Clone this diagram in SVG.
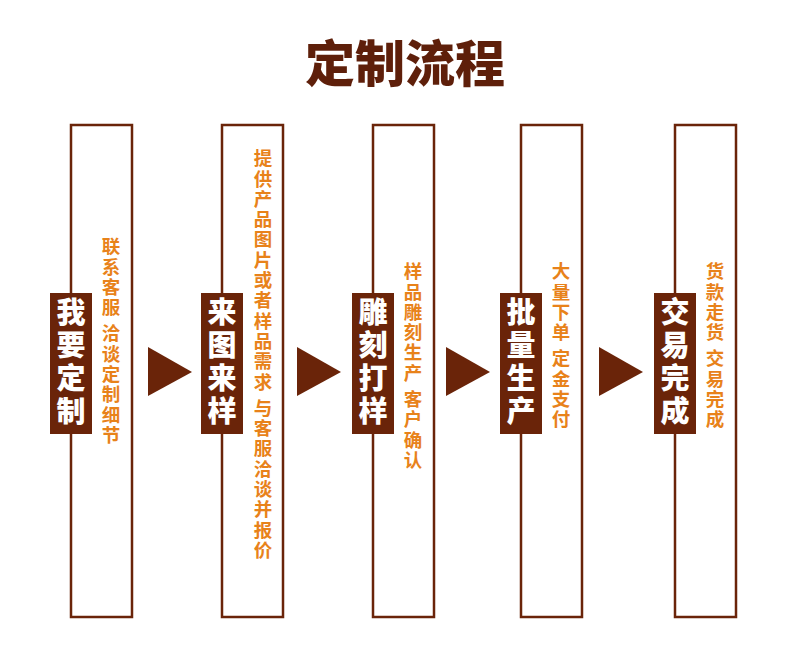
<svg xmlns="http://www.w3.org/2000/svg" width="790" height="657" viewBox="0 0 790 657">
<style>
.box{fill:#fff;stroke:#6a2409;stroke-width:2.5}
.lab{fill:#6a2409}
.lt{fill:#fff;font-family:"Noto Sans CJK SC",sans-serif;font-weight:900;font-size:29px;writing-mode:vertical-rl;letter-spacing:4px}
.st{fill:#e8821a;font-family:"Noto Sans CJK SC",sans-serif;font-weight:700;font-size:18.5px;writing-mode:vertical-rl;letter-spacing:1.8px}
.arr{fill:#6a2409}
</style>
<rect width="790" height="657" fill="#fff"/>
<text x="405" y="82" text-anchor="middle" font-family="'Noto Sans CJK SC',sans-serif" font-weight="900" font-size="50" fill="#5e1f0a">定制流程</text>
<g id="n1"><rect class="box" x="71" y="125" width="61" height="492"/><rect class="lab" x="50" y="293" width="42" height="141"/><text class="lt" x="71" y="297">我要定制</text><text class="st" x="111" y="237">联系客服 洽谈定制细节</text></g>
<g id="n2"><rect class="box" x="222" y="125" width="61" height="492"/><rect class="lab" x="201" y="293" width="42" height="141"/><text class="lt" x="222" y="297">来图来样</text><text class="st" x="263" y="149">提供产品图片或者样品需求 与客服洽谈并报价</text></g>
<g id="n3"><rect class="box" x="373" y="125" width="61" height="492"/><rect class="lab" x="352" y="293" width="42" height="141"/><text class="lt" x="373" y="297">雕刻打样</text><text class="st" x="413" y="262">样品雕刻生产 客户确认</text></g>
<g id="n4"><rect class="box" x="521" y="125" width="61" height="492"/><rect class="lab" x="500" y="293" width="42" height="141"/><text class="lt" x="521" y="297">批量生产</text><text class="st" x="561" y="262">大量下单 定金支付</text></g>
<g id="n5"><rect class="box" x="675" y="125" width="61" height="492"/><rect class="lab" x="654" y="293" width="42" height="141"/><text class="lt" x="675" y="297">交易完成</text><text class="st" x="715" y="262">货款走货 交易完成</text></g>
<g id="connectors">
<polygon class="arr" points="148,347 192,372 148,396"/>
<polygon class="arr" points="297,347 341,372 297,396"/>
<polygon class="arr" points="446,347 490,372 446,396"/>
<polygon class="arr" points="599,347 643,372 599,396"/>
</g>
</svg>
